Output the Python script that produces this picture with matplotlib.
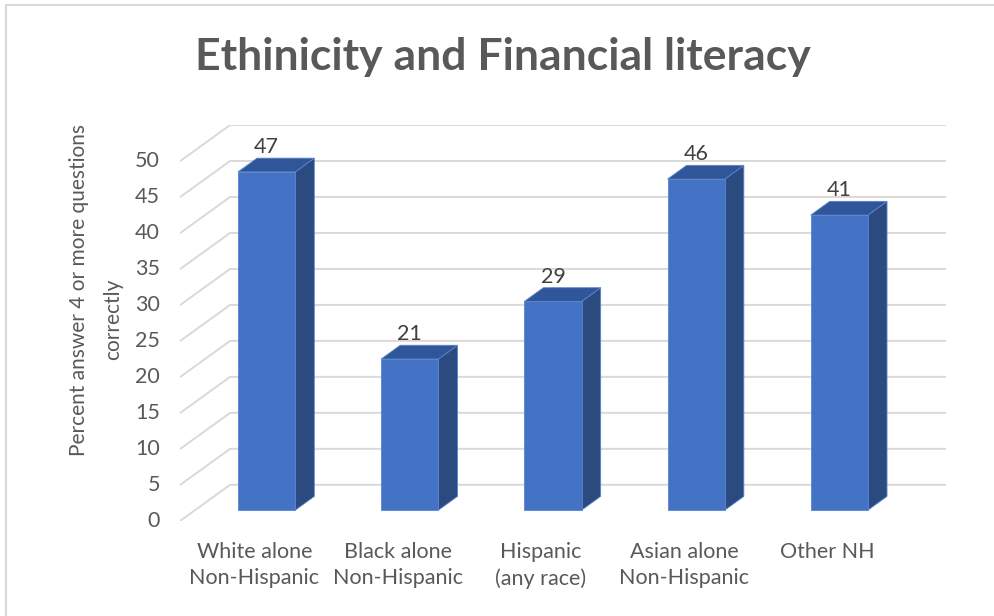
import matplotlib.pyplot as plt
from matplotlib.patches import Polygon, Rectangle

categories = ['White alone\nNon-Hispanic', 'Black alone\nNon-Hispanic',
              'Hispanic\n(any race)', 'Asian alone\nNon-Hispanic', 'Other NH']
values = [47, 21, 29, 46, 41]
y_ticks = list(range(0, 55, 5))

plt.rcParams['font.family'] = ['Lato', 'DejaVu Sans']

W, H = 995, 616
fig = plt.figure(figsize=(W / 100, H / 100), dpi=100)

# oblique offset of the floor depth, in data units
DX, DY = 0.35, 5.03
# bars sit between these fractions of the floor depth
D_FRONT, D_BACK = 0.30, 0.68
BAR_W = 0.40

ax = fig.add_axes([180 / W, 95 / H, 766 / W, 396 / H])
ax.set_xlim(0, len(values) + DX)
ax.set_ylim(0, y_ticks[-1] + DY)
ax.axis('off')

text_c = '#595959'
grid_c = '#d9d9d9'

# side wall diagonals + back wall gridlines
for v in y_ticks:
    ax.plot([0, DX, len(values) + DX], [v, v + DY, v + DY],
            color=grid_c, lw=1.4, zorder=1, solid_capstyle='butt')
    ax.text(-0.14, v, str(v), ha='right', va='center', fontsize=15.5,
            color=text_c, clip_on=False)

front_c = '#4472c4'
side_c = '#2a4a80'
top_c = '#30569a'
ox = (D_BACK - D_FRONT) * DX
oy = (D_BACK - D_FRONT) * DY

for i, (cat, val) in enumerate(zip(categories, values)):
    x0 = i + 0.5 - BAR_W / 2 + D_FRONT * DX
    x1 = x0 + BAR_W
    y0 = D_FRONT * DY
    y1 = y0 + val
    front = [(x0, y0), (x1, y0), (x1, y1), (x0, y1)]
    side = [(x1, y0), (x1 + ox, y0 + oy), (x1 + ox, y1 + oy), (x1, y1)]
    top = [(x0, y1), (x1, y1), (x1 + ox, y1 + oy), (x0 + ox, y1 + oy)]
    for pts, c in [(side, side_c), (top, top_c), (front, front_c)]:
        ax.add_patch(Polygon(pts, closed=True, facecolor=c, edgecolor='#5a84cc',
                             lw=0.6, zorder=3))
    # value label above the bar
    ax.text((x0 + x1) / 2, y1 + oy + 0.7, str(val), ha='center', va='baseline',
            fontsize=15.5, color='#404040', zorder=4)
    # category label under the floor
    ax.text(i + 0.5 + 0.02, -2.9, cat, ha='center', va='top', fontsize=15.5,
            color=text_c, linespacing=1.4, clip_on=False)

# axis title
fig.text(79 / W, 1 - 290 / H, 'Percent answer 4 or more questions', rotation=90,
         ha='center', va='center', fontsize=15, color=text_c)
fig.text(113 / W, 1 - 319 / H, 'correctly', rotation=90,
         ha='center', va='center', fontsize=15, color=text_c)

fig.text(503 / W, 1 - 57 / H, 'Ethinicity and Financial literacy', ha='center',
         va='center', fontsize=32, fontweight='bold', color=text_c)

# chart frame
fig.patches.append(Rectangle((6 / W, -0.1), 1.2, 1.1 - 5 / H, transform=fig.transFigure,
                             fill=False, edgecolor=grid_c, lw=1.5))

fig.savefig('out.png', dpi=100)
